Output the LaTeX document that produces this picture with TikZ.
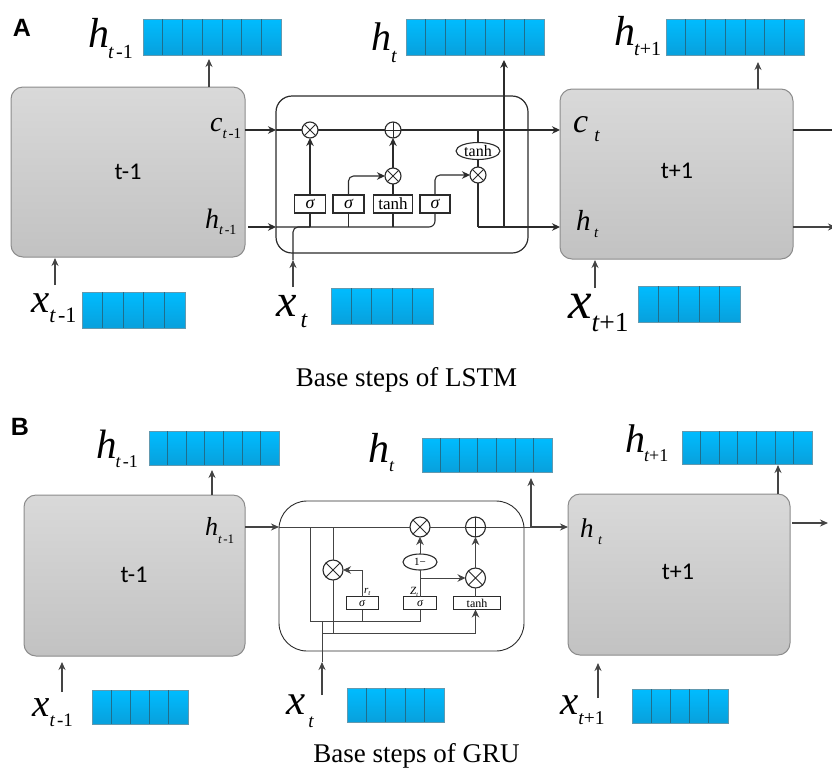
\documentclass[tikz,border=0pt]{standalone}
\usepackage{fontspec}
\setmainfont{Liberation Serif}
\newfontfamily\calib{Carlito}
\newfontfamily\arialf{Liberation Sans}
\usetikzlibrary{calc,arrows.meta,shapes.geometric}
\definecolor{ink}{HTML}{2B2B2B}
\definecolor{ink2}{HTML}{444444}
\definecolor{bartop}{HTML}{00BCFF}
\definecolor{barbot}{HTML}{08A0DC}
\definecolor{bardark}{HTML}{1F6E8C}
\definecolor{stagetop}{HTML}{D9D9D9}
\definecolor{stagebot}{HTML}{C2C2C2}
\definecolor{stageline}{HTML}{8C8C8C}
\newcommand\lab[6]{{\fontsize{#1}{#1}\selectfont\itshape #3}\kern#5pt\raisebox{-#6pt}{\fontsize{#2}{#2}\selectfont\itshape #4}}
\newcommand\subm{t\kern.12em{\upshape -1}}
\newcommand\subp{t{\upshape +1}}
\newcommand\cellbar[6]{%
  \node[barcell,minimum width=#4pt,minimum height=#5pt] (#1) at (#2,#3) {};
  \foreach \i in {1,...,#6}{\ifnum\i<#6\relax
    \draw[bardiv] ($(#1.north west)!{\i/#6}!(#1.north east)$) -- ($(#1.south west)!{\i/#6}!(#1.south east)$);\fi}}
\tikzset{
  x=1pt,y=-1pt,
  stage/.style={draw=stageline,line width=1pt,rounded corners=12pt,top color=stagetop,bottom color=stagebot,inner sep=0,outer sep=0,anchor=north west},
  cellbox/.style={draw=ink,line width=1.2pt,fill=white,inner sep=0,outer sep=0,anchor=north west},
  barcell/.style={draw=bardark!70,line width=0.6pt,top color=bartop,bottom color=barbot,inner sep=0,outer sep=0,anchor=north west},
  bardiv/.style={draw=bardark,line width=0.7pt},
  conn/.style={draw=ink,line width=1.1pt},
  thin conn/.style={draw=ink2,line width=0.9pt},
  arr/.style={draw=ink2,line width=1.3pt,-{Stealth[length=8pt,width=7pt]}},
  arrs/.style={conn,-{Stealth[length=8pt,width=7.5pt]}},
  arrt/.style={thin conn,-{Stealth[length=8pt,width=7.5pt]}},
  timesg/.style={circle,draw=ink,line width=1.1pt,fill=white,inner sep=0,outer sep=0,minimum size=#1,
    path picture={\draw[ink,line width=0.9pt] (path picture bounding box.north west)--(path picture bounding box.south east)
      (path picture bounding box.north east)--(path picture bounding box.south west);}},
  plusg/.style={circle,draw=ink,line width=1.1pt,fill=white,inner sep=0,outer sep=0,minimum size=#1,
    path picture={\draw[ink,line width=0.9pt] (path picture bounding box.north)--(path picture bounding box.south)
      (path picture bounding box.east)--(path picture bounding box.west);}},
  opbox/.style={draw=ink,line width=1.1pt,fill=white,inner sep=0,outer sep=0,font=\fontsize{#1}{#1}\selectfont},
  opell/.style={ellipse,draw=ink,line width=1.1pt,fill=white,inner sep=0,outer sep=0,font=\fontsize{#1}{#1}\selectfont},
  captxt/.style={inner sep=0,anchor=base,font=\fontsize{27}{27}\selectfont},
  panel/.style={inner sep=0,font=\arialf\bfseries\fontsize{25}{25}\selectfont},
  stagetxt/.style={inner sep=0,font=\calib\fontsize{24}{24}\selectfont},
  txt/.style={inner sep=0,anchor=base west},
}
\begin{document}
\begin{tikzpicture}
\useasboundingbox (0,0) rectangle (832,769);
% ---------- A: LSTM ----------
\node[panel] (pA) at (22,28) {A};
\node[stage,minimum width=234pt,minimum height=170pt] (lA) at (11,87) {};
\node[stage,minimum width=233pt,minimum height=170pt] (rA) at (560,89) {};
\node[stagetxt] (tlA) at (128,172) {t-1};
\node[stagetxt] (trA) at (677,171) {t+1};
\node[cellbox,minimum width=252pt,minimum height=157pt,rounded corners=16pt] (cA) at (276,96) {};
\cellbar{b1}{143}{19}{138}{36}{7}
\cellbar{b2}{406}{19}{138}{36}{7}
\cellbar{b3}{666}{19}{138}{36}{7}
\cellbar{b4}{82}{292}{103}{36}{5}
\cellbar{b5}{331}{288}{102}{36}{5}
\cellbar{b6}{638}{286}{102}{36}{5}
\node[timesg=16pt] (g1) at (310,130) {};
\node[plusg=16pt] (g2) at (393,130) {};
\node[timesg=16pt] (g3) at (393,176) {};
\node[timesg=16pt] (g4) at (478,175) {};
\node[opell=16,minimum width=44pt,minimum height=17pt] (el) at (478,151) {tanh};
\node[opbox=18,minimum width=31pt,minimum height=18pt] (s1) at (310,204) {\itshape σ};
\node[opbox=18,minimum width=31pt,minimum height=18pt] (s2) at (348.5,204) {\itshape σ};
\node[opbox=17,minimum width=39pt,minimum height=18pt] (s3) at (393,204) {tanh};
\node[opbox=18,minimum width=30pt,minimum height=18pt] (s4) at (435,204) {\itshape σ};
\coordinate (ls) at (248,227);
\coordinate (jb) at (276,227);
\coordinate (jo) at (478,227);
\coordinate (jv) at (504,227);
% LSTM connectors
\draw[arrs] (lA.east |- g1) -- (cA.west |- g1);
\draw[conn] (cA.west |- g1) -- (g1);
\draw[conn] (g1) -- (g2);
\draw[arrs] (g2) -- (rA.west |- g2);
\draw[arrs] (ls) -- (jb);
\draw[conn,rounded corners=6pt] (jb) -- (s4.south |- jb) -- (s4.south);
\draw[conn] (s1.south) -- (s1.south |- jb);
\draw[conn] (s2.south) -- (s2.south |- jb);
\draw[conn] (s3.south) -- (s3.south |- jb);
\draw[arrs] (s1.north) -- (g1.south);
\draw[arrs,rounded corners=5pt] (s2.north) |- (g3.west);
\draw[conn] (s3.north) -- (g3.south);
\draw[arrs] (g3.north) -- (g2.south);
\draw[arrs,rounded corners=5pt] (s4.north) |- (g4.west);
\draw[conn] (g4.north) -- (el.south);
\draw[conn] (el.north) -- (el.north |- g2);
\draw[conn] (g4.south) -- (jo);
\draw[arrs] (jo) -- (rA.west |- jo);
\draw[arrs] (jv) -- (504,60);
\draw[arr] (209,87) -- (209,59);
\draw[arr] (758,89) -- (758,62);
\draw[arr] (55,285) -- (55,258);
\draw[arr] (293,287) -- (293,260);
\draw[conn,rounded corners=5pt] (293,260) -- (293,227) -- (310,227);
\draw[arr] (595,288) -- (595,260);
\draw[conn] (rA.east |- g2) -- (832,130);
\draw[arr] (rA.east |- jo) -- (836,227);
% LSTM labels
\node[txt] (h1) at (88,47) {\lab{42}{20}{h}{\subm}{-1}{11}};
\node[txt] (h2) at (371,50) {\lab{40}{20}{h}{t}{0}{12}};
\node[txt] (h3) at (614,45) {\lab{42}{20}{h}{\subp}{-1}{10}};
\node[txt] (c1) at (210,131) {\lab{28}{15}{c}{\subm}{0}{7}};
\node[txt] (h4) at (205,228) {\lab{28}{14}{h}{\subm}{0}{6.5}};
\node[txt] (c2) at (573,132) {\lab{34}{19}{c}{t}{6}{9}};
\node[txt] (h5) at (576,230) {\lab{29}{15}{h}{t}{3.5}{7}};
\node[txt] (x1) at (31,312) {\lab{41}{22}{x}{\subm}{0}{10}};
\node[txt] (x2) at (276,316) {\lab{46}{24}{x}{t}{4}{11}};
\node[txt] (x3) at (568,318) {\lab{53}{27.5}{x}{\subp}{0}{13}};
\node[captxt] (capA) at (406.5,386) {Base steps of LSTM};
% ---------- B: GRU ----------
\node[panel] (pB) at (20,427) {B};
\node[stage,minimum width=221pt,minimum height=161pt] (lB) at (24,495) {};
\node[stage,minimum width=222pt,minimum height=161pt] (rB) at (568,494) {};
\node[stagetxt] (tlB) at (134,575) {t-1};
\node[stagetxt] (trB) at (678,572) {t+1};
\node[cellbox,minimum width=245pt,minimum height=150pt,rounded corners=28pt,line width=0.9pt] (cB) at (279,501) {};
\cellbar{d1}{149}{431}{130}{34}{7}
\cellbar{d2}{422}{438}{130}{34}{7}
\cellbar{d3}{682}{431}{130}{33}{7}
\cellbar{d4}{92}{690}{96}{34}{5}
\cellbar{d5}{347}{688}{97}{34}{5}
\cellbar{d6}{632}{689}{96}{34}{5}
\node[timesg=20pt] (k1) at (420,527) {};
\node[plusg=20pt] (k2) at (475.5,527) {};
\node[timesg=20pt] (k3) at (333,570) {};
\node[timesg=20pt] (k4) at (475.5,578) {};
\node[opell=11,minimum width=34pt,minimum height=16pt] (om) at (420,562) {1−};
\node[opbox=12,minimum width=32pt,minimum height=13pt,line width=0.9pt] (q1) at (362,603) {\itshape σ};
\node[opbox=12,minimum width=33pt,minimum height=13pt,line width=0.9pt] (q2) at (420,603) {\itshape σ};
\node[opbox=12,minimum width=47pt,minimum height=13pt,line width=0.9pt] (q3) at (477,603) {tanh};
\coordinate (ja) at (310,527);
\coordinate (jc) at (333,527);
\coordinate (jd) at (310,621);
\coordinate (je) at (322,621);
\coordinate (jf) at (322,633);
\coordinate (jg) at (333,633);
\coordinate (jh) at (420,578);
\coordinate (ji) at (531,527);
\coordinate (jj) at (322,662);
% GRU connectors
\draw[arr] (lB.east |- k1) -- (cB.west |- k1);
\draw[thin conn] (cB.west |- k1) -- (k1);
\draw[thin conn] (k1) -- (k2);
\draw[thin conn] (k2) -- (ji);
\draw[arr] (ji) -- (rB.west |- k2);
\draw[arr] (ji) -- (531,478);
\draw[thin conn] (ja) -- (jd) -- (q2.south |- jd) -- (q2.south);
\draw[thin conn] (q1.south) -- (q1.south |- jd);
\draw[thin conn] (jc) -- (k3.north);
\draw[thin conn] (k3.south) -- (jg);
\draw[arrt] (jf) -| (k4 |- q3.south);
\draw[arrt] (q1.north) |- (k3.east);
\draw[thin conn] (q2.north) -- (om.south);
\draw[arrt] (om.north) -- (k1.south);
\draw[arrt] (jh) -- (k4.west);
\draw[thin conn] (k4 |- q3.north) -- (k4.south);
\draw[arrt] (k4.north) -- (k2.south);
\draw[arr] (322,695) -- (jj);
\draw[thin conn] (jj) -- (je);
\draw[arr] (212,495) -- (212,470);
\draw[arr] (778,494) -- (778,465);
\draw[arr] (62,692) -- (62,662);
\draw[arr] (598,698) -- (598,663);
\draw[arr] (792,523) -- (828,523);
% GRU labels
\node[txt] (gh1) at (96,458) {\lab{41}{18}{h}{\subm}{-1}{9}};
\node[txt] (gh2) at (368,462) {\lab{42}{18}{h}{t}{0}{9}};
\node[txt] (gh3) at (625,452) {\lab{40}{18}{h}{\subp}{-1}{9}};
\node[txt] (gh4) at (205,535) {\lab{26}{13}{h}{\subm}{0}{8}};
\node[txt] (gh5) at (580,537) {\lab{27}{14}{h}{t}{4.5}{7}};
\node[txt] (gx1) at (32,716) {\lab{39}{19}{x}{\subm}{0}{10}};
\node[txt] (gx2) at (286,714) {\lab{43}{19}{x}{t}{3}{13}};
\node[txt] (gx3) at (560,714) {\lab{41}{19.5}{x}{\subp}{0}{10}};
\node[txt] (rt) at (364,593) {\lab{11}{7}{r}{t}{0}{2}};
\node[txt] (zt) at (410,594) {\lab{11}{6}{Z}{t}{0}{2}};
\node[captxt] (capB) at (416.5,762.5) {Base steps of GRU};
\end{tikzpicture}
\end{document}
